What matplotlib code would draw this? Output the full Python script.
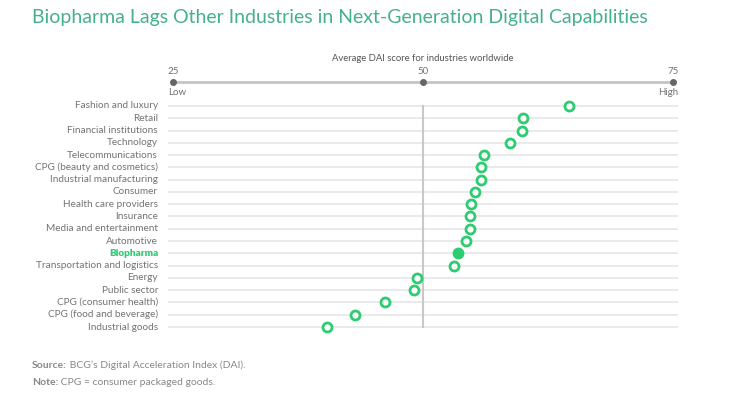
import numpy as np
import matplotlib.pyplot as plt

# data
industries = ["Fashion and luxury", "Retail", "Financial institutions", "Technology",
              "Telecommunications", "CPG (beauty and cosmetics)", "Industrial manufacturing",
              "Consumer", "Health care providers", "Insurance", "Media and entertainment",
              "Automotive", "Biopharma", "Transportation and logistics", "Energy",
              "Public sector", "CPG (consumer health)", "CPG (food and beverage)",
              "Industrial goods"]
dai_score = [64.6, 60.0, 59.9, 58.7, 56.1, 55.8, 55.8, 55.2, 54.8, 54.7, 54.7,
             54.3, 53.5, 53.1, 49.4, 49.1, 46.2, 43.2, 40.4]
highlight = "Biopharma"
scale_ticks = [25, 50, 75]

green = "#2ecc71"
title_green = "#45b08f"
grey_txt = "#737373"

plt.rcParams['font.family'] = ['Lato', 'DejaVu Sans']

fig = plt.figure(figsize=(7.38, 3.95), dpi=100)
W, H = 738, 395
px_top, px_bot = 50, 335
ax = fig.add_axes([168 / W, 1 - px_bot / H, (678 - 168) / W, (px_bot - px_top) / H])

row_h = (327 - 106) / 18.0
ax.set_xlim(24.5, 75.5)
ax.set_ylim((px_bot - 106) / row_h, (px_top - 106) / row_h)
ax.axis('off')

y = np.arange(len(industries))

# grid rows
for yi in y:
    ax.plot([24.5, 75.5], [yi, yi], color="#e6e6e6", lw=1.2, zorder=1)
ax.plot([50, 50], [0, len(industries) - 1], color="#c8c8c8", lw=1.5, zorder=2)

# dots + labels
for yi, name, v in zip(y, industries, dai_score):
    face = green if name == highlight else "white"
    ax.plot(v, yi, 'o', ms=6.5, mfc=face, mec=green, mew=2, zorder=3)
    if name == highlight:
        ax.text(23.5, yi, name, ha='right', va='center', fontsize=7.2,
                color=green, fontweight='heavy')
    else:
        ax.text(23.5, yi, name, ha='right', va='center', fontsize=7.2, color=grey_txt)

# top scale
sy = (82 - 106) / row_h
ax.plot([scale_ticks[0], scale_ticks[-1]], [sy, sy], color="#c4c4c4", lw=2, zorder=1, clip_on=False)
ax.plot(scale_ticks, [sy] * len(scale_ticks), 'o', color="#666666", ms=4, zorder=2, clip_on=False)
for t in scale_ticks:
    ax.text(t, (72 - 106) / row_h, str(t), ha='center', va='center', fontsize=7, color=grey_txt)
ax.text(24.5, (93 - 106) / row_h, "Low", ha='left', va='center', fontsize=7, color=grey_txt)
ax.text(75.5, (93 - 106) / row_h, "High", ha='right', va='center', fontsize=7, color=grey_txt)
ax.text(50, (59 - 106) / row_h, "Average DAI score for industries worldwide", ha='center',
        va='center', fontsize=6.8, color="#555555")

# titles and notes
fig.text(32 / W, 1 - 17 / H, "Biopharma Lags Other Industries in Next-Generation Digital Capabilities",
         ha='left', va='center', fontsize=14, color=title_green)
s1 = fig.text(32 / W, 1 - 370 / H, "Source:", ha='left', va='bottom', fontsize=7.5,
              color="#888888", fontweight='bold')
ax.annotate(" BCG\u2019s Digital Acceleration Index (DAI).", xy=(1, 0), xycoords=s1,
            ha='left', va='bottom', fontsize=7.5, color="#888888")
s2 = fig.text(32 / W, 1 - 387 / H, "Note:", ha='left', va='bottom', fontsize=7.5,
              color="#888888", fontweight='bold')
ax.annotate(" CPG = consumer packaged goods.", xy=(1, 0), xycoords=s2,
            ha='left', va='bottom', fontsize=7.5, color="#888888")

fig.savefig("out.png", dpi=100)
